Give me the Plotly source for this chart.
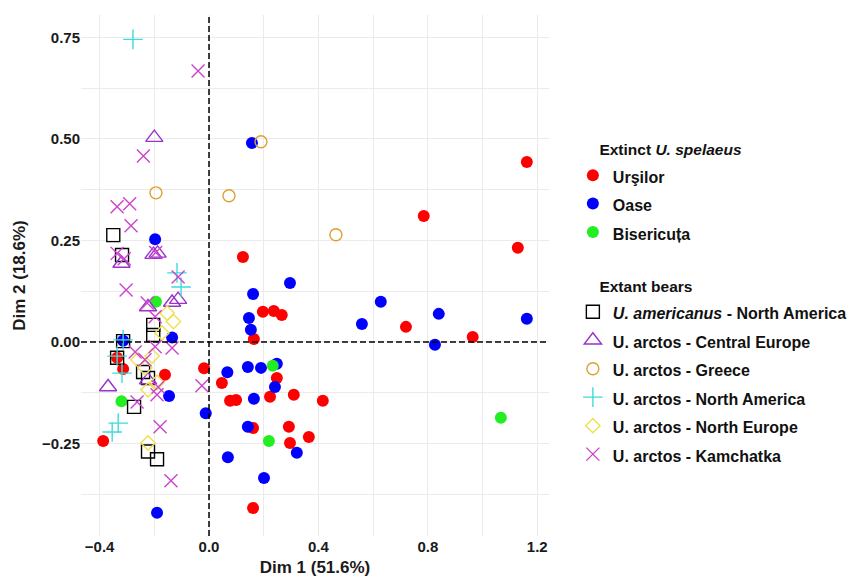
import plotly.graph_objects as go

# PCA scores (Dim 1, Dim 2) per group
ursilor_x = [-0.387, -0.336, -0.314, -0.161, -0.018, 0.047, 0.077, 0.099, 0.124, 0.164, 0.197, 0.237, 0.266, 0.248,
             0.223, 0.310, 0.416, 0.161, 0.292, 0.296, 0.365, 0.161, 1.162, 0.785, 1.129, 0.720, 0.964]
ursilor_y = [-0.244, -0.039, -0.067, -0.081, -0.065, -0.101, -0.145, -0.143, 0.209, 0.007, 0.074, 0.076, 0.066, -0.089,
             -0.135, -0.130, -0.145, -0.212, -0.209, -0.249, -0.234, -0.409, 0.443, 0.310, 0.232, 0.037, 0.012]

oase_x = [-0.197, -0.314, -0.135, -0.146, -0.190, -0.012, 0.067, 0.142, 0.190, 0.248, 0.241, 0.164, 0.142, 0.321,
          0.069, 0.201, 0.157, 0.296, 0.161, 0.146, 0.153, 0.628, 0.559, 0.840, 0.826, 1.162]
oase_y = [0.253, 0.003, 0.011, -0.133, -0.421, -0.176, -0.075, -0.062, -0.064, -0.054, -0.111, -0.140, -0.209, -0.273,
          -0.284, -0.335, 0.490, 0.145, 0.118, 0.059, 0.030, 0.099, 0.044, 0.069, -0.007, 0.057]

biser_x = [-0.194, -0.320, 0.233, 0.219, 1.067]
biser_y = [0.099, -0.146, -0.059, -0.244, -0.187]

americanus_x = [-0.350, -0.318, -0.204, -0.204, -0.314, -0.336, -0.241, -0.223, -0.274, -0.223, -0.190]
americanus_y = [0.263, 0.214, 0.042, 0.017, 0.002, -0.039, -0.074, -0.089, -0.160, -0.270, -0.289]

central_x = [-0.200, -0.320, -0.203, -0.188, -0.223, -0.135, -0.113, -0.369, -0.223]
central_y = [0.503, 0.193, 0.215, 0.218, 0.086, 0.097, 0.104, -0.111, -0.094]

greece_x = [-0.194, 0.073, 0.190, 0.464]
greece_y = [0.367, 0.360, 0.493, 0.264]

namerica_x = [-0.278, -0.117, -0.102, -0.314, -0.336, -0.318, -0.332, -0.354]
namerica_y = [0.745, 0.170, 0.135, 0.005, -0.035, -0.077, -0.200, -0.222]

neurope_x = [-0.153, -0.130, -0.172, -0.208, -0.260, -0.234, -0.190, -0.223, -0.223]
neurope_y = [0.071, 0.050, 0.022, -0.035, -0.044, -0.064, -0.100, -0.118, -0.249]

kamchatka_x = [-0.040, -0.240, -0.290, -0.336, -0.285, -0.336, -0.310, -0.195, -0.113, -0.303, -0.226, -0.197,
               -0.135, -0.197, -0.270, -0.234, -0.186, -0.026, -0.190, -0.263, -0.179, -0.139]
kamchatka_y = [0.667, 0.458, 0.340, 0.333, 0.286, 0.218, 0.205, 0.220, 0.160, 0.128, 0.096, 0.062,
               -0.015, -0.012, -0.025, -0.044, -0.111, -0.108, -0.130, -0.148, -0.209, -0.342]

FONT = "Liberation Sans, Arial, sans-serif"
LABEL_PX = 16
TITLE_PX = 15.5
NBSP = "\u00a0"


def lab(text):
    return f'<span style="font-size:{LABEL_PX}px">{text}</span>'


extinct_title = NBSP * 5 + "Extinct <i>U. spelaeus</i>"
extant_title = NBSP * 5 + "Extant bears"

series = [
    # name, x, y, symbol, colour, size, group, group title
    ("Urşilor", ursilor_x, ursilor_y, "circle", "#FF0000", 12, "extinct", extinct_title),
    ("Oase", oase_x, oase_y, "circle", "#0000FF", 12, "extinct", extinct_title),
    ("Bisericuța", biser_x, biser_y, "circle", "#22EE22", 12, "extinct", extinct_title),
    ("<i>U. americanus</i> - North America", americanus_x, americanus_y, "square-open", "#000000", 13, "extant", extant_title),
    ("U. arctos - Central Europe", central_x, central_y, "triangle-up-open", "#9933CC", 15, "extant", extant_title),
    ("U. arctos - Greece", greece_x, greece_y, "circle-open", "#DDA030", 12, "extant", extant_title),
    ("U. arctos - North America", namerica_x, namerica_y, "cross-thin-open", "#3EDCDC", 14, "extant", extant_title),
    ("U. arctos - North Europe", neurope_x, neurope_y, "diamond-open", "#EEE050", 11, "extant", extant_title),
    ("U. arctos - Kamchatka", kamchatka_x, kamchatka_y, "x-thin-open", "#CC44CC", 13, "extant", extant_title),
]

fig = go.Figure()
for name, xs, ys, sym, col, size, grp, gtitle in series:
    filled = not sym.endswith("open")
    fig.add_trace(go.Scatter(
        x=xs, y=ys, mode="markers", name=lab(name),
        legendgroup=grp,
        legendgrouptitle=dict(text=gtitle, font=dict(family=FONT, size=TITLE_PX, color="#111111", weight="bold")),
        marker=dict(symbol=sym, size=size, color=col,
                    line=dict(width=0 if filled else 1.4, color=col)),
    ))

# dashed reference lines through the origin
fig.add_shape(type="line", xref="x", yref="y domain", x0=0, x1=0, y0=0, y1=1,
              line=dict(color="#000000", width=1.5, dash="6px,3px"), layer="above")
fig.add_shape(type="line", xref="x domain", yref="y", x0=0, x1=1, y0=0, y1=0,
              line=dict(color="#000000", width=1.5, dash="6px,3px"), layer="above")

grid = "#EBEBEB"
tickfont = dict(family=FONT, size=15, color="#1a1a1a", weight="bold")
titlefont = dict(family=FONT, size=17, color="#1a1a1a", weight="bold")

fig.update_xaxes(range=[-0.468, 1.243], tick0=0, dtick=0.4, tickformat=".1f",
                 showgrid=True, gridcolor=grid, gridwidth=1, zeroline=False, showline=False,
                 ticks="", tickfont=tickfont,
                 minor=dict(dtick=0.2, tick0=0, showgrid=True, gridcolor=grid, gridwidth=1),
                 title=dict(text="Dim 1 (51.6%)", font=titlefont, standoff=7))
fig.update_yaxes(range=[-0.478, 0.805], tick0=0, dtick=0.25, tickformat=".2f",
                 showgrid=True, gridcolor=grid, gridwidth=1, zeroline=False, showline=False,
                 ticks="", tickfont=tickfont,
                 minor=dict(dtick=0.125, tick0=0, showgrid=True, gridcolor=grid, gridwidth=1),
                 title=dict(text="Dim 2 (18.6%)", font=titlefont, standoff=12))

fig.update_layout(
    width=855, height=583,
    margin=dict(l=81, r=306, t=15, b=47, autoexpand=False),
    paper_bgcolor="white", plot_bgcolor="white",
    font=dict(family=FONT, color="#111111"),
    legend=dict(x=1.051, xanchor="left", y=0.774, yanchor="top",
                font=dict(family=FONT, size=19.6, color="#111111", weight="bold"),
                tracegroupgap=28, traceorder="grouped", bgcolor="rgba(0,0,0,0)"),
)

fig.write_html("out.html")
